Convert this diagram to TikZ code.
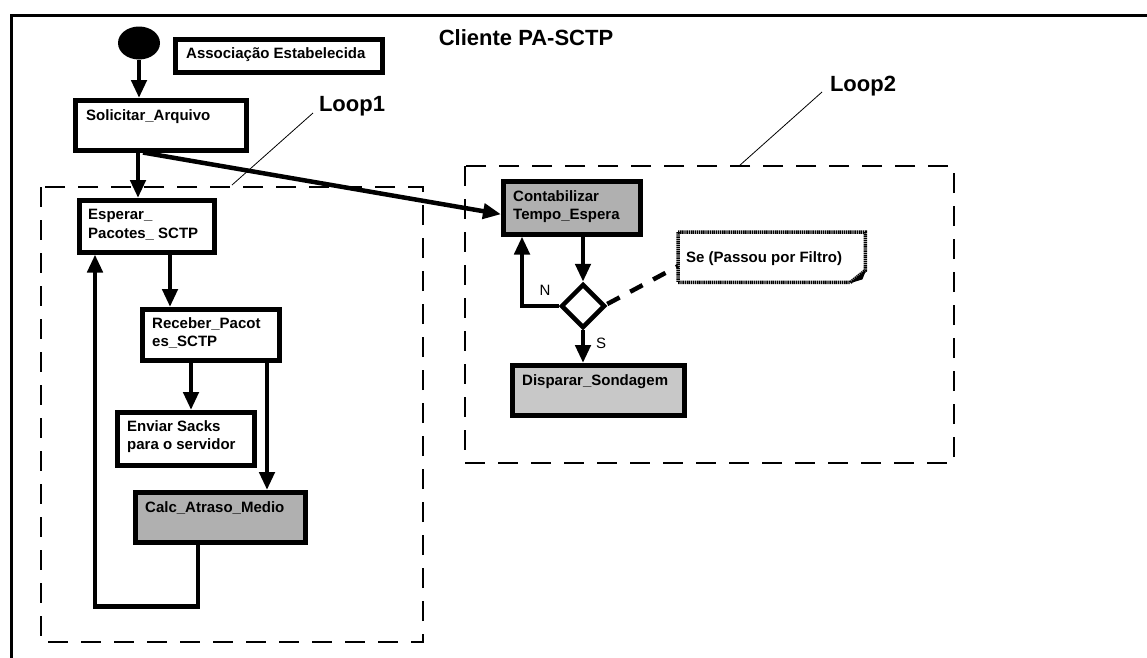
\documentclass[tikz,border=0pt]{standalone}
\usepackage{fontspec}
\setmainfont{Liberation Sans}
\usetikzlibrary{arrows.meta,shapes.geometric,calc}

\definecolor{darkfill}{RGB}{176,176,176}
\definecolor{lightfill}{RGB}{200,200,200}

\begin{document}
\begin{tikzpicture}[x=1pt,y=-1pt,
  frame/.style={line width=3pt},
  stepbox/.style={draw, line width=4.5pt, rectangle, inner sep=0pt, anchor=north west},
  boxtext/.style={anchor=north west, inner sep=0pt, align=left,
    font=\bfseries\fontsize{15}{18.5}\selectfont},
  bigtext/.style={inner sep=0pt, font=\bfseries\fontsize{22}{24}\selectfont},
  flow/.style={line width=4.5pt, -{Triangle[length=18pt,width=15pt]}},
  looparea/.style={line width=2pt, dash pattern=on 20pt off 13pt},
  leader/.style={line width=0.8pt},
  branch/.style={inner sep=0pt, font=\fontsize{15}{18}\selectfont}
]
\useasboundingbox (0,0) rectangle (1147,657);

% outer frame of the client
\draw[frame] (1160,15) -- (11,15) -- (11,670);

% title and loop labels
\node[bigtext] (title) at (526,38) {Cliente PA-SCTP};
\node[bigtext] (loop1) at (352,106) {Loop1};
\node[bigtext] (loop2) at (863,86) {Loop2};

% loop regions
\draw[looparea] (41,187) rectangle (423,642);
\draw[looparea] (465,166) rectangle (954,463);
\coordinate (l1a) at (313,113);
\coordinate (l1b) at (232,185);
\coordinate (l2a) at (822,92);
\coordinate (l2b) at (739,166);
\draw[leader] (l1a) -- (l1b);
\draw[leader] (l2a) -- (l2b);

% initial state
\node[ellipse, fill=black, minimum width=42pt, minimum height=33pt, inner sep=0pt] (start) at (139,43) {};

% activity boxes
\node[stepbox, minimum width=207pt, minimum height=33pt] (assoc) at (173,37) {};
\node[boxtext] (assoct) at ($(assoc.north west)+(13,10)$) {Associação Estabelecida};

\node[stepbox, minimum width=171pt, minimum height=50pt] (solic) at (73,98) {};
\node[boxtext] (solict) at ($(solic.north west)+(13,11)$) {Solicitar\_Arquivo};

\node[stepbox, minimum width=135pt, minimum height=52pt] (esper) at (77,198) {};
\node[boxtext] (espert) at ($(esper.north west)+(11,11)$) {Esperar\_\\Pacotes\_ SCTP};

\node[stepbox, minimum width=137pt, minimum height=51pt] (receb) at (140,307) {};
\node[boxtext] (recebt) at ($(receb.north west)+(12,10)$) {Receber\_Pacot\\es\_SCTP};

\node[stepbox, minimum width=137pt, minimum height=53pt] (envia) at (115,410) {};
\node[boxtext] (enviat) at ($(envia.north west)+(12,10)$) {Enviar Sacks\\para o servidor};

\node[stepbox, fill=darkfill, minimum width=170pt, minimum height=50pt] (calc) at (133,490) {};
\node[boxtext] (calct) at ($(calc.north west)+(12,11)$) {Calc\_Atraso\_Medio};

\node[stepbox, fill=darkfill, minimum width=137pt, minimum height=53pt] (cont) at (501,179) {};
\node[boxtext] (contt) at ($(cont.north west)+(12,11)$) {Contabilizar\\Tempo\_Espera};

\node[stepbox, fill=lightfill, minimum width=172pt, minimum height=50pt] (disp) at (510,363) {};
\node[boxtext] (dispt) at ($(disp.north west)+(12,11)$) {Disparar\_Sondagem};

% decision
\node[diamond, draw, line width=4.5pt, aspect=1, minimum width=44pt, minimum height=44pt, inner sep=0pt] (dia) at (583,306) {};

% guard note with folded corner
\node[anchor=north west, inner sep=0pt, minimum width=187pt, minimum height=50pt] (note) at (678,232) {};
\node[boxtext, anchor=west] (notet) at ($(note.west)+(8,1)$) {Se (Passou por Filtro)};
\draw[line width=3.5pt, dash pattern=on 1.4pt off 0.7pt]
  (note.north west) -- (note.north east) -- ($(note.south east)+(0,-12)$)
  -- ($(note.south east)+(-15,0)$) -- (note.south west) -- cycle;
\fill ($(note.south east)+(1,-13)$) -- ($(note.south east)+(-16,1)$) -- ($(note.south east)+(-3,-3)$) -- cycle;

% main flow
\draw[flow] (start.south) -- (start.south |- solic.north);
\coordinate (s1) at ($(solic.south west)+(65,0)$);
\draw[flow] (s1) -- (s1 |- esper.north);
\coordinate (s2) at ($(solic.south west)+(70,0)$);
\draw[flow] (s2) -- ($(cont.west)+(0,6.5)$);

\coordinate (e1) at ($(esper.south west)+(93,0)$);
\draw[flow] (e1) -- (e1 |- receb.north);
\coordinate (r1) at ($(receb.south west)+(51,0)$);
\draw[flow] (r1) -- (r1 |- envia.north);
\coordinate (r2) at ($(receb.south west)+(127,0)$);
\draw[flow] (r2) -- (r2 |- calc.north);
\coordinate (c1) at ($(calc.south west)+(65,0)$);
\coordinate (eback) at ($(esper.south west)+(18,0)$);
\draw[flow] (c1) -- ++(0,62) -| (eback);

% loop 2 flow
\coordinate (k1) at ($(cont.south west)+(82,0)$);
\draw[flow] (k1) -- (k1 |- dia.north);
\coordinate (kback) at ($(cont.south west)+(21,0)$);
\draw[flow] (dia.west) -| (kback);
\draw[flow] (dia.south) -- (dia.south |- disp.north);
\node[branch] (nlab) at (545,290) {N};
\node[branch] (slab) at (601,343) {S};
\draw[line width=4.5pt, dash pattern=on 14pt off 12pt] ($(dia.east)+(0,-2)$) -- ($(note.west)+(0,9)$);
\end{tikzpicture}
\end{document}
